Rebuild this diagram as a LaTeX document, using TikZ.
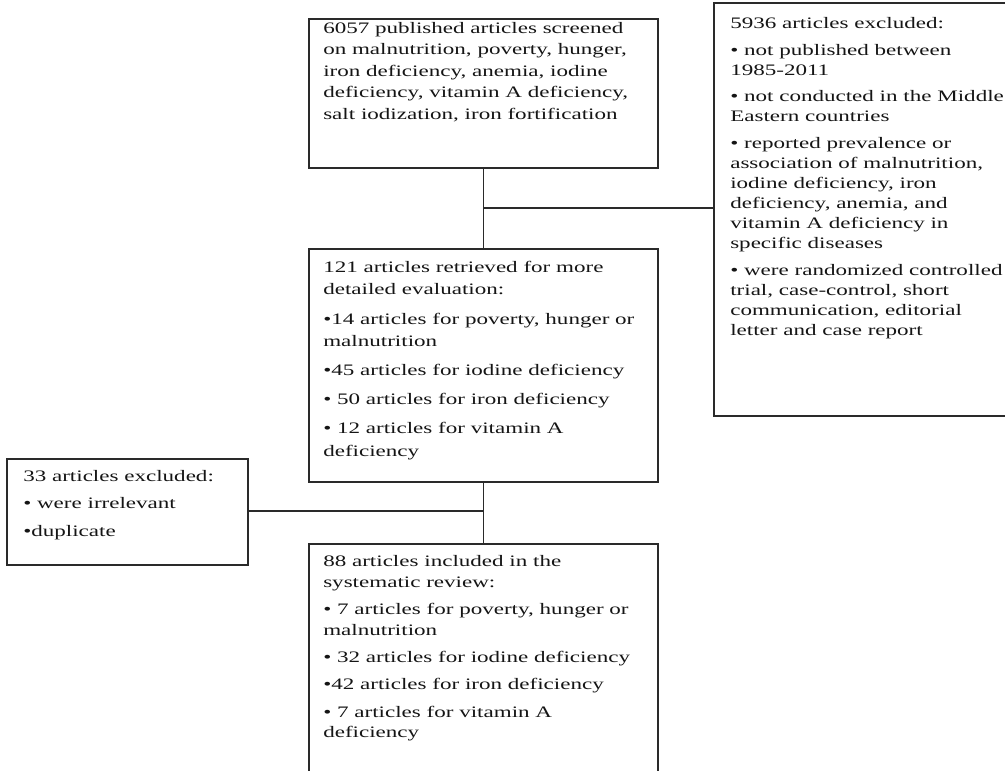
\documentclass[tikz,border=0pt]{standalone}
\usepackage{fontspec}
\setmainfont{Liberation Serif}[FakeStretch=1.44]
\definecolor{linec}{HTML}{2A2A2A}
\definecolor{textc}{HTML}{151515}
\begin{document}
\begin{tikzpicture}[x=0.75pt,y=-0.75pt,
  box/.style={draw=linec, line width=1.2pt, fill=none, inner sep=0pt, outer sep=0pt, anchor=north west},
  conn/.style={draw=linec, line width=1.1pt},
  txt/.style={text=textc, align=left, inner sep=0pt, anchor=north west}]
\clip (0,0) rectangle (1005,770);
\fill[white] (0,0) rectangle (1005,770);
% boxes
\node[box, minimum width=261.75pt, minimum height=111.75pt] (top) at (309,19) {};
\node[box, minimum width=229.5pt, minimum height=309.75pt] (right) at (714,3) {};
\node[box, minimum width=261.75pt, minimum height=174.75pt] (mid) at (309,249) {};
\node[box, minimum width=180.75pt, minimum height=79.5pt] (left) at (7,459) {};
\node[box, minimum width=261.75pt, minimum height=192pt] (bottom) at (309,544) {};
% connectors
\coordinate (j1) at (483.5,208);
\coordinate (j2) at (483.5,511);
\draw[conn] (top.south) -- (mid.north);
\draw[conn] (j1) -- (j1 -| right.west);
\draw[conn] (mid.south) -- (bottom.north);
\draw[conn] (j2) -- (j2 -| left.east);
% texts
\node[txt, font=\fontsize{12pt}{16.1pt}\selectfont] (ttop) at (323,22) {6057 published articles screened\\on malnutrition, poverty, hunger,\\iron deficiency, anemia, iodine\\deficiency, vitamin A deficiency,\\salt iodization, iron fortification};
\node[txt, font=\fontsize{12pt}{15pt}\selectfont] (tright) at (730,17) {5936 articles excluded:\\[5pt]• not published between\\1985-2011\\[5pt]• not conducted in the Middle\\Eastern countries\\[5pt]• reported prevalence or\\association of malnutrition,\\iodine deficiency, iron\\deficiency, anemia, and\\vitamin A deficiency in\\specific diseases\\[5pt]• were randomized controlled\\trial, case-control, short\\communication, editorial\\letter and case report};
\node[txt, font=\fontsize{12pt}{16.8pt}\selectfont] (tmid) at (323,261) {121 articles retrieved for more\\detailed evaluation:\\[5pt]•14 articles for poverty, hunger or\\malnutrition\\[5pt]•45 articles for iodine deficiency\\[5pt]• 50 articles for iron deficiency\\[5pt]• 12 articles for vitamin A\\deficiency};
\node[txt, font=\fontsize{12pt}{15pt}\selectfont] (tleft) at (23,470) {33 articles excluded:\\[5.5pt]• were irrelevant\\[5.5pt]•duplicate};
\node[txt, font=\fontsize{12pt}{15.5pt}\selectfont] (tbottom) at (323,555) {88 articles included in the\\systematic review:\\[5pt]• 7 articles for poverty, hunger or\\malnutrition\\[5pt]• 32 articles for iodine deficiency\\[5pt]•42 articles for iron deficiency\\[5pt]• 7 articles for vitamin A\\deficiency};
\end{tikzpicture}
\end{document}
